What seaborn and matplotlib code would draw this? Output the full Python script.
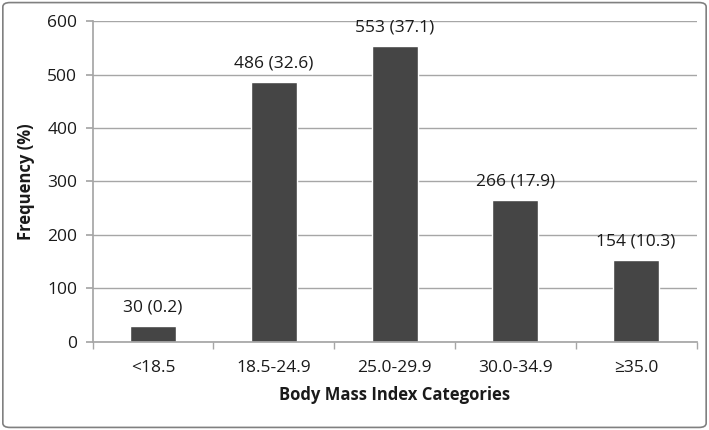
import matplotlib
matplotlib.use("Agg")
import matplotlib.pyplot as plt
import seaborn as sns
import pandas as pd
from matplotlib.patches import FancyBboxPatch

# Dati
categories = ["<18.5", "18.5-24.9", "25.0-29.9", "30.0-34.9", "≥35.0"]
counts = [30, 486, 553, 266, 154]
percents = [0.2, 32.6, 37.1, 17.9, 10.3]
y_ticks = [0, 100, 200, 300, 400, 500, 600]

df = pd.DataFrame({"bmi": categories, "freq": counts})

sns.set_theme(style="white")
plt.rcParams["font.family"] = ["Open Sans", "DejaVu Sans"]

fig = plt.figure(figsize=(7.09, 4.30), dpi=100)
ax = fig.add_axes([0.1305, 0.205, 0.852, 0.746])

sns.barplot(x="bmi", y="freq", data=df, color="#454545", width=0.38,
            saturation=1, ax=ax)

# etichette sopra le barre
for i, (c, p) in enumerate(zip(counts, percents)):
    ax.annotate(f"{c} ({p})", (i, c), xytext=(0, 7.5), textcoords="offset points",
                ha="center", va="bottom", fontsize=12.5, color="#1a1a1a")

ax.set_xlim(-0.5, len(categories) - 0.5)
ax.set_ylim(0, 600)
ax.set_yticks(y_ticks)
ax.yaxis.grid(True, color="#a6a6a6", linewidth=1)
ax.set_axisbelow(True)

for side in ["top", "right"]:
    ax.spines[side].set_visible(False)
ax.spines["left"].set_color("#a6a6a6")
ax.spines["bottom"].set_color("#a6a6a6")

# tick tra le categorie
ax.set_xticks([i - 0.5 for i in range(len(categories) + 1)], minor=True)
ax.tick_params(axis="x", which="major", length=0, pad=13, labelsize=12.5, colors="#1a1a1a")
ax.tick_params(axis="x", which="minor", length=5, color="#a6a6a6", direction="out", bottom=True)
ax.tick_params(axis="y", length=5, color="#a6a6a6", direction="out", left=True, pad=6,
               labelsize=12.5, colors="#1a1a1a")

ax.set_xlabel("Body Mass Index Categories", fontsize=12, fontweight="bold", labelpad=7, color="#1a1a1a")
ax.set_ylabel("Frequency (%)", fontsize=12, fontweight="bold", labelpad=9, color="#1a1a1a")

# bordo esterno della figura
border = FancyBboxPatch((0.004, 0.006), 0.992, 0.988, boxstyle="round,pad=0,rounding_size=0.01",
                        transform=fig.transFigure, fill=False, edgecolor="#808080", linewidth=1.2)
fig.patches.append(border)

fig.savefig("out.png", dpi=100)
